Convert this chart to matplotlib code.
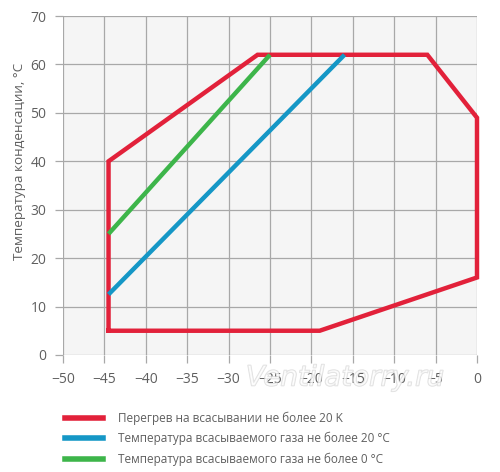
import matplotlib.pyplot as plt
import matplotlib.patheffects as pe
import numpy as np

plt.rcParams['font.family'] = ['Open Sans', 'DejaVu Sans']

# Data
# envelope: superheat at suction <= 20 K
red_t0 = [-44.5, -44.5, -26.5, -6, 0, 0, -19, -44.5]
red_tc = [5, 40, 62, 62, 49, 16, 5, 5]
# suction gas temperature <= 20 °C
blue_t0 = [-44.5, -16]
blue_tc = [12.5, 62]
# suction gas temperature <= 0 °C
green_t0 = [-44.5, -25]
green_tc = [25, 62]

labels = ['Перегрев на всасывании не более 20 K',
          'Температура всасываемого газа не более 20 °C',
          'Температура всасываемого газа не более 0 °C']
xticks = np.arange(-50, 1, 5)
yticks = np.arange(0, 71, 10)

red = '#e2213a'
blue = '#1597c6'
green = '#3db54a'
txt = '#5f5f5f'

fig = plt.figure(figsize=(5, 4.72), dpi=100)
ax = fig.add_axes([0.126, 0.248, 0.828, 0.718])
ax.set_facecolor('#f5f5f5')

ax.plot(red_t0, red_tc, color=red, lw=3.2, solid_joinstyle='miter', zorder=3, clip_on=False)
ax.plot(blue_t0, blue_tc, color=blue, lw=3.2, solid_capstyle='butt', zorder=3)
ax.plot(green_t0, green_tc, color=green, lw=3.2, solid_capstyle='butt', zorder=3)

ax.set_xlim(-50, 0)
ax.set_ylim(0, 70)
ax.set_xticks(xticks)
ax.set_yticks(yticks)
ax.grid(True, color='#a8a8a8', lw=0.9)
ax.set_axisbelow(True)
for s in ax.spines.values():
    s.set_visible(False)
ax.tick_params(colors='#a8a8a8', labelcolor=txt, labelsize=10, length=6, width=0.9, pad=6)
ax.set_ylabel('Температура конденсации, °С', color=txt, fontsize=9.7)
ax.yaxis.set_label_coords(-0.09, 0.57)

# legend below the plot
handles = [plt.Line2D([], [], color=c, lw=4) for c in (red, blue, green)]
fig.legend(handles, labels, loc='upper left', bbox_to_anchor=(0.12, 0.138),
           frameon=False, fontsize=8.5, labelcolor=txt, handlelength=3.2,
           handletextpad=1.3, labelspacing=0.6, borderaxespad=0)

# watermark
fig.text(0.69, 0.2, 'Ventilatorry.ru', fontsize=20, style='italic',
         family='DejaVu Sans', color='white', ha='center', va='center',
         alpha=0.55, zorder=5,
         path_effects=[pe.withStroke(linewidth=1.0, foreground='#c4c4c4')])

fig.savefig('out.png', dpi=100)
